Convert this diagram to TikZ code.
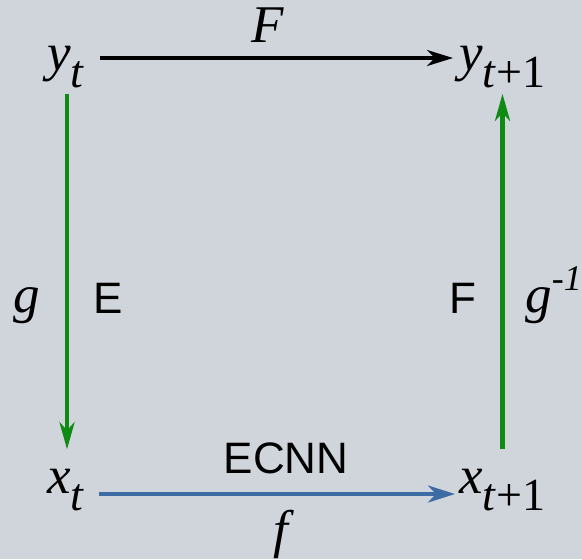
\documentclass[tikz,border=0pt]{standalone}
\usepackage{fontspec}
\setmainfont{Liberation Serif}
\newfontfamily\lblsans{Liberation Sans}
\usetikzlibrary{arrows.meta}
\definecolor{bgcol}{HTML}{D0D4DB}
\definecolor{arrgreen}{HTML}{0F8A12}
\definecolor{arrblue}{HTML}{3C6CA3}
% variable with a lowered index
\newcommand{\sbs}[2]{\textit{#1}\raisebox{-8.5pt}{\fontsize{23}{23}\selectfont #2}}

\begin{document}
\begin{tikzpicture}[
  x=0.5pt, y=-0.5pt,
  mlbl/.style={inner sep=0pt, font=\fontsize{26.5}{30}\selectfont},
  slbl/.style={inner sep=0pt, font=\lblsans\fontsize{22}{26}\selectfont},
  karr/.style={draw=black, line width=1.6pt,
               -{Stealth[length=13pt,width=8pt,inset=4pt]}},
  garr/.style={draw=arrgreen, line width=2.2pt,
               -{Stealth[length=13.5pt,width=7.5pt,inset=4pt]}},
  barr/.style={draw=arrblue, line width=2pt,
               -{Stealth[length=13.5pt,width=8.5pt,inset=4pt]}}
]
\fill[bgcol] (0,0) rectangle (582,559);
\node[mlbl, anchor=base west] (yt)  at (47,70)  {\sbs{y}{\textit{t}}};
\node[mlbl, anchor=base west] (yt1) at (459,70) {\sbs{y}{\textit{t}+1}};
\node[mlbl, anchor=base west] (xt)  at (47,493) {\sbs{x}{\textit{t}}};
\node[mlbl, anchor=base west] (xt1) at (459,493) {\sbs{x}{\textit{t}+1}};
\node[mlbl, anchor=base] (glbl) at (27,312) {\textit{g}};
\node[slbl, anchor=base] (elbl) at (108,313) {E};
\node[slbl, anchor=base] (flbl) at (463,313) {F};
\node[mlbl, anchor=base west] (ginv) at (525,312)
  {\textit{g}\raisebox{11pt}{\fontsize{18}{18}\selectfont\textit{-1}}};

\draw[karr, shorten <=7.5pt, shorten >=3pt]
  ([yshift=6pt]yt.base east) -- ([yshift=6pt]yt1.base west)
  node[mlbl, midway, above=7pt, xshift=-2pt] (ftop) {\textit{F}};
\draw[garr, shorten <=3pt, shorten >=9.5pt]
  ([xshift=0.5pt]yt.south) -- ([xshift=0.5pt]yt.south |- xt.north);
\draw[garr, shorten <=9.5pt, shorten >=3pt]
  (yt1.south |- xt1.north) -- (yt1.south);
\draw[barr, shorten <=7pt, shorten >=2pt]
  ([yshift=-0.5pt]xt.base east) -- ([yshift=-0.5pt]xt1.base west)
  node[slbl, midway, above=9pt, xshift=7pt] (ecnn) {ECNN}
  node[mlbl, midway, below=7pt, xshift=6pt] (fbot) {\textit{f}};
\end{tikzpicture}
\end{document}
